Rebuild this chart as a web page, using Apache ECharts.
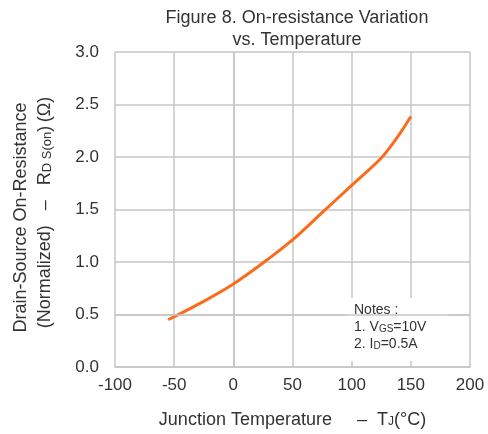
<!DOCTYPE html>
<html>
<head>
<meta charset="utf-8">
<script src="https://cdn.jsdelivr.net/npm/echarts@6/dist/echarts.min.js"></script>
<style>
  html, body { margin: 0; padding: 0; background: #fff; }
  #chart { width: 488px; height: 434px; }
</style>
</head>
<body>
<div id="chart"></div>
<script>
// Normalized on-resistance vs junction temperature
const tempC = [-55, -25, 0, 25, 50, 75, 100, 125, 140, 150];
const rdsNorm = [0.45, 0.625, 0.79, 0.99, 1.21, 1.47, 1.73, 1.99, 2.21, 2.385];
const xTicks = [-100, -50, 0, 50, 100, 150, 200];
const yTicks = [0.0, 0.5, 1.0, 1.5, 2.0, 2.5, 3.0];
const notes = ['Notes :', '1. V{s|GS}=10V', '2. I{s|D}=0.5A'];

const FONT = '"Liberation Sans", Arial, sans-serif';
const TXT = '#333';
const GRID = '#c6c6c6';

const chart = echarts.init(document.getElementById('chart'), null, { renderer: 'canvas' });

chart.setOption({
  animation: false,
  backgroundColor: '#fff',
  title: {
    text: 'Figure 8. On-resistance Variation\nvs. Temperature',
    left: 292,
    top: 2,
    textAlign: 'center',
    textStyle: { fontFamily: FONT, fontSize: 18, fontWeight: 'normal', color: TXT, lineHeight: 22 }
  },
  grid: { left: 115, right: 18, top: 52, bottom: 62 },
  xAxis: {
    type: 'value',
    min: xTicks[0],
    max: xTicks[xTicks.length - 1],
    interval: 50,
    name: 'Junction Temperature     \u2013  T{s|J}(\u00B0C)',
    nameLocation: 'middle',
    nameGap: 44,
    nameTextStyle: {
      fontFamily: FONT, fontSize: 18, color: TXT,
      rich: { s: { fontFamily: FONT, fontSize: 12, color: TXT, padding: [4, 0, 0, 0] } }
    },
    axisLine: { lineStyle: { color: GRID, width: 1.5 } },
    axisTick: { show: false },
    axisLabel: { fontFamily: FONT, fontSize: 17, color: TXT, margin: 10 },
    splitLine: { lineStyle: { color: GRID, width: 1.5 } }
  },
  yAxis: {
    type: 'value',
    min: yTicks[0],
    max: yTicks[yTicks.length - 1],
    interval: 0.5,
    name: 'Drain-Source On-Resistance  \n(Normalized)   \u2013   R{s|D S(on}){s|\u00A0}(\u03A9)',
    nameLocation: 'middle',
    nameRotate: 90,
    nameGap: 58,
    nameTextStyle: {
      fontFamily: FONT, fontSize: 18, color: TXT, lineHeight: 24,
      padding: [0, 6, 0, 0],
      rich: { s: { fontFamily: FONT, fontSize: 13, color: TXT, lineHeight: 24, padding: [4, 0, 0, 0] } }
    },
    axisLine: { show: true, lineStyle: { color: GRID, width: 1.5 } },
    axisTick: { show: false },
    axisLabel: {
      fontFamily: FONT, fontSize: 17, color: TXT, margin: 16,
      padding: [0, 0, 6, 0],
      formatter: v => v.toFixed(1)
    },
    splitLine: { lineStyle: { color: GRID, width: 1.5 } }
  },
  graphic: [{
    type: 'text',
    left: 345,
    top: 298,
    z: 2,
    style: {
      text: notes.join('\n'),
      font: '14px ' + FONT,
      fill: TXT,
      lineHeight: 17,
      backgroundColor: '#fff',
      padding: [4, 22, 8, 9],
      rich: { s: { font: '10px ' + FONT, fill: TXT, padding: [4, 0, 0, 0] } }
    }
  }],
  series: [{
    type: 'line',
    data: tempC.map((t, i) => [t, rdsNorm[i]]),
    smooth: 0.3,
    showSymbol: false,
    lineStyle: { color: '#fa6c1c', width: 3 },
    z: 3,
    // 0.5 gridline runs through the notes box
    markLine: {
      silent: true,
      symbol: 'none',
      label: { show: false },
      lineStyle: { color: GRID, width: 1.5, type: 'solid' },
      data: [{ yAxis: 0.5 }]
    }
  }]
});
</script>
</body>
</html>
